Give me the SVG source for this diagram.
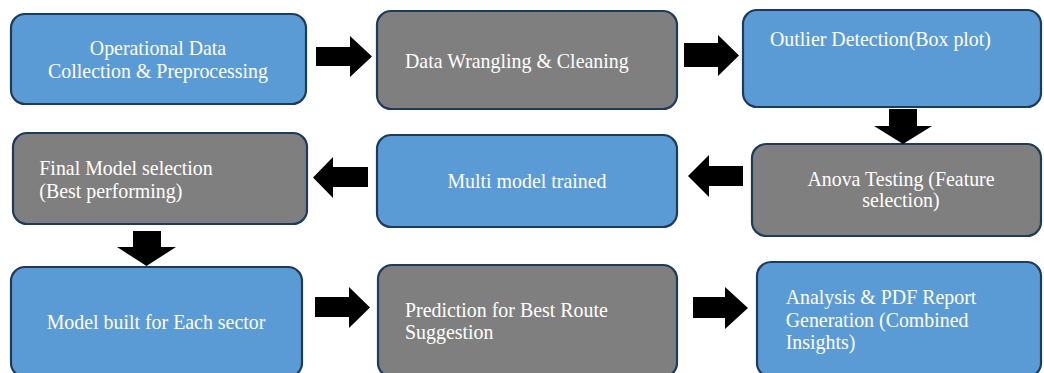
<svg xmlns="http://www.w3.org/2000/svg" width="1044" height="373" viewBox="0 0 1044 373">
<style>
.box{stroke:#1F3B5A;stroke-width:2.2}
.blue{fill:#5B9BD5}
.gray{fill:#7F7F7F}
.t{font-family:"Liberation Serif","Times New Roman",serif;font-size:19.9px;fill:#FFFFFF}
.m{text-anchor:middle}
.arr{fill:#000000}
</style>
<rect width="1044" height="373" fill="#FFFFFF"/>
<g id="n1"><rect class="box blue" x="11" y="14" width="295" height="90" rx="14"/><text class="t m" x="158" y="55">Operational Data</text><text class="t m" x="158" y="77.6">Collection &amp; Preprocessing</text></g>
<g id="n2"><rect class="box gray" x="377" y="11" width="300" height="98" rx="14"/><text class="t" x="405" y="68">Data Wrangling &amp; Cleaning</text></g>
<g id="n3"><rect class="box blue" x="743" y="10" width="298" height="97" rx="14"/><text class="t" x="770" y="45.7">Outlier Detection(Box plot)</text></g>
<g id="n4"><rect class="box gray" x="752" y="144" width="289" height="92" rx="14"/><text class="t m" x="901" y="186">Anova Testing (Feature</text><text class="t m" x="901" y="207">selection)</text></g>
<g id="n5"><rect class="box blue" x="377" y="135" width="300" height="92" rx="14"/><text class="t m" x="527" y="188.3">Multi model trained</text></g>
<g id="n6"><rect class="box gray" x="13" y="133" width="294" height="91" rx="14"/><text class="t" x="39.3" y="175">Final Model selection</text><text class="t" x="39.3" y="197.6">(Best performing)</text></g>
<g id="n7"><rect class="box blue" x="11" y="267" width="291" height="110" rx="14"/><text class="t m" x="156" y="329">Model built for Each sector</text></g>
<g id="n8"><rect class="box gray" x="378" y="265" width="299" height="112" rx="14"/><text class="t" x="405" y="316.7">Prediction for Best Route</text><text class="t" x="405" y="339.3">Suggestion</text></g>
<g id="n9"><rect class="box blue" x="757" y="262" width="284" height="115" rx="14"/><text class="t" x="785.7" y="304">Analysis &amp; PDF Report</text><text class="t" x="785.7" y="326.7">Generation (Combined</text><text class="t" x="785.7" y="349.3">Insights)</text></g>
<g id="connectors">
<polygon class="arr" points="316,47 350,47 350,36 372,56.5 350,77 350,66 316,66"/>
<polygon class="arr" points="684,43 718,43 718,35 739,55.5 718,76 718,67 684,67"/>
<polygon class="arr" points="889,109 917,109 917,126 932,126 903,144 874,126 889,126"/>
<polygon class="arr" points="743,166 709,166 709,155 688,176 709,197 709,186 743,186"/>
<polygon class="arr" points="368,167 333,167 333,157 313,177.5 333,198 333,187 368,187"/>
<polygon class="arr" points="133,231 161,231 161,247 176,247 146.5,266 117,247 133,247"/>
<polygon class="arr" points="315,297 349,297 349,287 370,307.5 349,328 349,317 315,317"/>
<polygon class="arr" points="693,297 725,297 725,287 748,308 725,329 725,318 693,318"/>
</g>
</svg>
